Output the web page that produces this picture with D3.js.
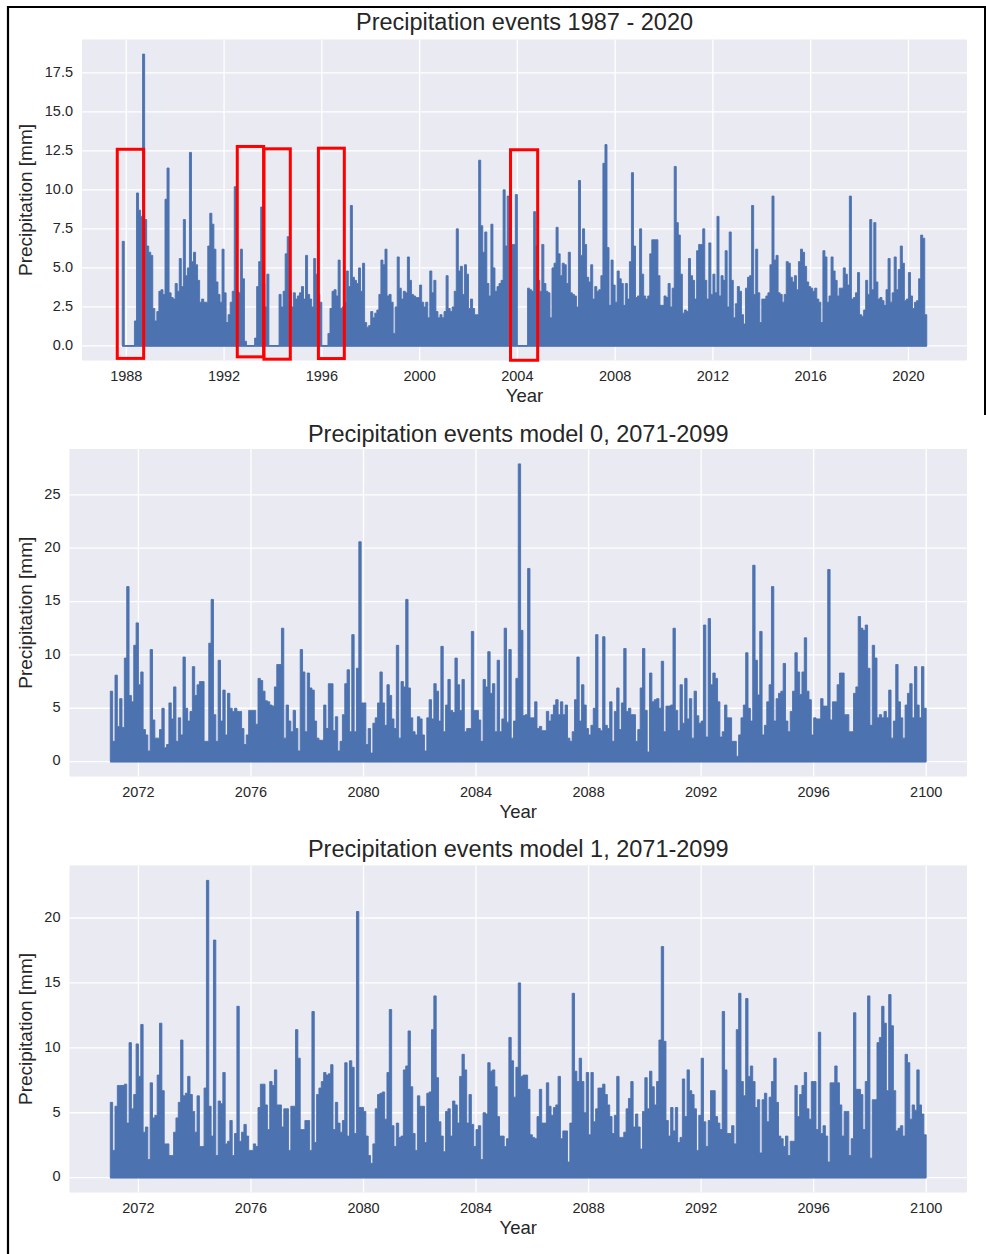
<!DOCTYPE html>
<html><head><meta charset="utf-8">
<script src="https://cdn.jsdelivr.net/npm/d3@7"></script>
<style>
body{margin:0;background:#fff}
svg{display:block}
text{font-family:"Liberation Sans",Arial,Helvetica,sans-serif;fill:#262626}
</style>
</head><body>
<svg id="chart" width="986" height="1254"></svg>
<script>
// ---------- DATA (monthly maxima of daily precipitation, mm) ----------
const obsStart = [1987, 10]; // Nov 1987
const obsValues = [
6.7,0,
0,0,0,0,1.6,9.8,8.7,8.3,18.7,8.1,6.4,6.0,
5.8,2.4,1.6,2.2,3.5,3.6,3.3,9.4,11.4,3.4,3.1,3.0,
4.0,3.5,5.6,3.8,8.1,4.5,5.0,12.4,5.4,6.0,5.2,4.2,
2.8,3.0,2.8,2.8,6.4,8.5,7.8,6.2,4.1,3.3,2.8,6.2,
3.4,1.5,2.0,2.8,3.5,10.2,3.5,3.4,6.2,4.3,0.3,0,
0,0,0,0.5,3.8,5.4,8.9,4.0,2.5,4.6,0,0,
0,0,0,3.3,2.5,3.5,5.9,7.0,3.5,2.5,3.4,3.0,
3.2,3.4,3.8,3.0,5.8,3.3,3.0,2.5,5.6,4.6,3.3,2.8,
0,0,0,0.8,2.4,3.5,3.6,3.2,5.5,2.4,2.5,2.8,
4.8,3.8,9.0,4.4,4.2,4.0,5.0,3.5,5.3,1.5,1.2,1.3,
2.2,1.8,2.1,2.3,3.3,5.5,5.2,6.2,3.2,3.3,2.8,0.8,
2.5,5.7,3.7,3.0,3.5,3.4,5.7,4.2,3.3,3.2,3.1,3.1,
3.9,2.8,2.5,2.8,1.8,4.8,3.4,4.2,2.2,1.8,2.0,1.8,
2.2,4.5,2.4,2.2,2.5,3.5,7.5,4.8,5.1,3.3,5.2,4.6,
2.4,3.0,2.4,2.0,2.0,11.9,7.7,6.0,7.3,4.0,3.2,7.8,
5.0,3.5,3.8,4.0,4.2,10.0,6.4,9.6,4.1,6.5,6.5,9.7,
0,0,0,0,0,3.7,3.6,3.5,8.6,6.4,4.2,3.5,
6.5,4.0,3.5,3.4,1.8,5.0,5.3,7.6,5.9,4.5,5.3,5.2,
4.0,6.0,3.4,3.3,3.2,2.5,10.6,5.8,7.5,6.5,4.4,4.1,
5.2,3.0,3.8,3.5,3.6,4.5,11.7,12.9,6.3,2.6,5.5,3.9,
2.8,4.8,4.3,4.0,2.6,4.0,3.0,5.4,11.1,6.4,3.1,3.2,
7.5,4.6,3.2,3.0,3.2,5.9,6.8,6.8,6.8,4.5,2.6,2.6,
3.2,3.1,4.0,2.5,3.7,11.5,7.9,7.1,4.6,2.1,2.3,2.2,
5.6,4.5,4.2,3.0,6.1,6.5,6.5,7.5,4.2,3.0,6.6,3.3,
4.6,3.4,8.3,3.2,4.5,4.2,6.1,2.5,7.3,4.2,1.8,2.7,
3.8,3.5,2.0,1.4,3.7,4.4,4.5,9.0,3.3,6.2,3.4,1.5,
3.0,3.0,3.2,3.4,5.2,9.6,5.5,5.8,3.4,3.3,2.8,3.3,
5.4,5.3,4.4,4.1,4.5,3.6,5.4,6.2,6.0,5.1,4.1,3.8,
3.7,3.5,3.7,3.0,2.8,1.5,6.1,5.7,2.8,3.2,5.7,4.8,
4.2,3.2,3.7,3.7,5.0,4.6,3.9,9.6,3.0,3.1,3.4,4.7,
2.0,1.9,2.3,4.2,3.3,8.1,3.6,7.9,4.1,3.0,3.1,2.9,
2.6,3.6,5.6,2.8,3.4,5.7,3.6,4.9,6.4,5.3,2.9,3.0,
4.7,3.2,2.4,2.8,2.9,4.3,7.1,6.9,2.0
];

const modelStart = [2071, 0]; // Jan 2071
const model0Values = [
6.6,1.9,8.1,3.3,5.9,3.2,9.7,16.4,6.2,5.6,10.9,13.0,
7.2,8.4,3.0,2.5,1.0,10.5,3.9,2.2,2.2,3.0,5.0,1.3,
1.6,5.5,4.0,7.0,1.9,4.1,2.5,9.8,5.0,3.8,4.7,8.9,
6.2,7.2,7.5,7.5,1.9,1.9,11.1,15.2,4.4,1.9,9.5,3.8,
6.7,2.5,6.4,5.0,4.7,5.0,4.7,4.7,3.1,1.6,2.5,4.8,
4.8,4.8,3.5,7.8,7.6,6.6,5.7,5.6,5.3,5.2,7.0,9.1,
9.1,12.5,2.2,5.3,3.8,2.8,4.8,3.1,1.0,10.5,8.4,2.8,
8.3,6.9,6.7,3.8,2.2,2.0,2.0,5.3,3.1,7.3,7.3,2.9,
4.2,1.0,1.9,4.4,7.3,8.6,2.8,11.9,2.8,8.75,20.6,5.5,
5.5,1.6,3.1,0.8,3.6,4.1,5.5,8.4,5.5,3.4,7.2,6.2,
4.0,3.1,10.9,2.2,7.5,7.0,15.2,6.9,4.1,2.8,2.5,4.2,
4.0,2.5,1.0,4.1,5.8,4.0,7.3,6.6,3.8,10.8,2.8,5.3,
7.7,4.8,4.6,9.7,7.2,4.8,7.7,2.8,3.1,3.1,12.2,4.8,
4.8,3.9,1.9,7.7,7.0,10.3,6.4,7.3,2.8,9.5,2.8,4.0,
12.5,3.7,10.5,2.2,3.8,7.8,27.9,12.3,4.3,4.4,18.1,4.1,
4.1,5.6,3.1,3.3,2.9,2.9,4.7,3.8,4.4,5.3,5.8,4.4,
5.6,4.4,5.3,2.2,1.9,2.8,5.8,9.8,3.8,7.2,5.3,3.1,
2.5,3.4,5.0,11.9,3.1,2.9,11.7,3.4,3.1,5.6,1.9,4.7,
6.9,3.0,5.5,10.6,4.7,5.0,4.4,4.4,1.9,3.0,6.9,10.6,
4.8,0.9,8.3,5.6,5.8,5.9,5.0,9.4,2.8,5.2,5.2,5.3,
12.5,4.8,2.9,7.2,3.6,7.8,4.0,5.9,2.2,6.6,4.3,3.6,
3.8,12.8,2.3,13.4,7.2,8.3,7.8,5.6,2.3,2.8,5.3,4.1,
4.1,1.9,1.9,0.5,2.5,4.1,5.3,10.2,5.0,3.8,18.4,9.5,
6.25,12.2,2.5,3.4,5.6,7.2,16.4,3.8,5.9,6.4,6.6,9.2,
3.8,2.8,4.7,6.6,10.2,8.4,6.3,8.4,11.6,6.6,5.8,2.5,
4.1,4.0,4.0,5.9,5.2,5.2,18.0,3.9,5.6,5.6,7.2,8.3,
8.3,4.4,4.4,2.8,2.8,6.4,7.0,13.6,12.5,12.3,12.8,8.75,
3.4,10.9,9.7,4.1,4.4,4.1,4.7,4.1,6.7,2.2,3.8,9.1,
5.6,4.1,2.2,5.3,6.4,7.3,4.1,8.9,5.3,4.1,8.9,5.0
];

const model1Values = [
5.8,2.1,5.5,7.1,7.1,7.1,7.2,4.2,10.4,5.3,6.4,10.3,
7.8,11.8,3.5,3.9,1.4,7.3,4.6,4.8,7.9,11.9,6.7,2.6,
2.6,1.7,1.7,3.5,4.6,5.8,10.6,6.3,6.5,7.8,6.4,5.1,
3.5,6.3,2.4,2.4,6.9,22.9,5.5,3.2,18.3,1.7,5.9,5.7,
8.1,2.6,2.8,4.4,1.7,3.4,13.2,2.8,3.5,4.1,3.2,2.1,
2.1,2.6,2.4,5.4,7.2,7.2,5.6,3.7,7.4,7.1,8.3,5.6,
5.6,3.9,5.3,5.3,2.1,5.5,5.5,11.4,9.2,3.7,3.7,4.4,
4.4,2.1,12.8,2.7,6.4,6.9,7.4,8.1,7.9,8.0,8.7,3.7,
5.8,4.2,3.5,4.4,8.85,3.2,9.0,8.5,3.4,20.5,5.4,5.4,
5.1,3.2,1.7,1.1,2.6,5.3,6.4,6.5,6.6,4.5,8.1,12.95,
4.0,2.4,4.2,3.1,3.2,8.3,8.6,11.3,7.0,3.4,2.1,6.3,
5.5,5.5,2.7,6.5,6.6,11.4,14.0,7.7,4.3,3.2,2.0,5.1,
5.3,3.2,5.9,5.6,4.2,7.8,9.5,8.3,4.2,6.4,4.1,2.4,
3.7,4.0,1.4,5.0,4.9,8.85,8.2,8.3,7.0,4.7,3.2,3.2,
2.4,3.0,10.8,9.0,6.2,8.5,15.0,7.8,7.9,7.9,6.8,3.3,
3.1,3.0,4.7,6.8,4.2,4.2,7.3,5.5,4.8,5.4,5.6,7.8,
3.0,3.6,3.6,1.2,4.2,14.2,8.2,7.4,9.2,7.4,5.0,8.1,
3.3,8.1,4.3,5.3,6.9,6.9,7.2,6.4,5.6,4.7,3.4,4.8,
7.8,3.1,3.1,3.5,5.3,6.1,7.4,3.9,4.9,3.9,2.2,5.1,
7.7,5.3,8.2,7.0,5.6,7.4,10.6,17.8,10.5,4.4,3.2,5.4,
3.6,5.4,2.7,3.1,7.6,4.7,8.3,6.7,6.4,5.3,2.1,4.8,
9.2,4.3,2.4,4.4,6.7,6.7,4.7,4.2,3.7,12.8,8.3,3.4,
3.4,4.0,2.6,11.4,14.2,7.4,6.3,13.8,7.8,8.6,7.4,5.4,
6.0,1.9,6.0,6.5,4.3,6.2,7.4,9.2,5.8,3.2,3.0,2.4,
3.2,1.7,2.8,2.8,7.1,4.7,6.4,7.1,8.1,5.3,4.5,7.4,
7.4,3.7,11.2,3.4,4.0,3.2,1.2,7.3,7.3,8.6,7.3,5.6,
3.2,5.1,5.1,1.7,3.0,12.7,6.8,6.8,6.4,3.7,7.4,14.0,
1.5,6.0,6.0,10.4,10.8,13.2,11.9,6.7,14.1,11.7,6.7,3.6,
3.8,4.0,3.2,9.5,8.85,4.5,5.6,5.2,8.3,5.6,4.9,3.3
];

const obsYearTicks = [1988,1992,1996,2000,2004,2008,2012,2016,2020];
const modelYearTicks = [2072,2076,2080,2084,2088,2092,2096,2100];
const obsValueTicks = [0,2.5,5,7.5,10,12.5,15,17.5];
const model0ValueTicks = [0,5,10,15,20,25];
const model1ValueTicks = [0,5,10,15,20];
const titles = ["Precipitation events 1987 - 2020","Precipitation events model 0, 2071-2099","Precipitation events model 1, 2071-2099"];
const xLabel = "Year";
const yLabel = "Precipitation [mm]";
// highlighted gaps in the observations: [fromYear, toYear, topValue, bottomValue]
const gapFrom = [1987.63, 1992.54, 1993.63, 1995.86, 2003.72];
const gapTo   = [1988.71, 1993.62, 1994.71, 1996.92, 2004.83];
const gapTop  = [12.6, 12.78, 12.63, 12.67, 12.57];
const gapBot  = [-0.8, -0.7, -0.85, -0.81, -0.92];

// ---------- DRAW ----------
const svg = d3.select("#chart");
const BLUE = "#4c72b0", BG = "#eaeaf2";

// frame lines of the screenshot
svg.append("line").attr("x1",8).attr("x2",8).attr("y1",6).attr("y2",1254).attr("stroke","#000").attr("stroke-width",2.2);
svg.append("line").attr("x1",7).attr("x2",986).attr("y1",7).attr("y2",7).attr("stroke","#000").attr("stroke-width",2.2);
svg.append("line").attr("x1",985).attr("x2",985).attr("y1",6).attr("y2",415).attr("stroke","#000").attr("stroke-width",2);

const panels = [
  {title:titles[0], values:obsValues, start:obsStart, xTicks:obsYearTicks, yTicks:obsValueTicks, fmt:d3.format(".1f"),
   left:82, right:967, top:39.5, bottom:360.5, titleY:23.5, id:0},
  {title:titles[1], values:model0Values, start:modelStart, xTicks:modelYearTicks, yTicks:model0ValueTicks, fmt:d3.format("d"),
   left:69.5, right:967, top:449, bottom:776.5, titleY:436, id:1},
  {title:titles[2], values:model1Values, start:modelStart, xTicks:modelYearTicks, yTicks:model1ValueTicks, fmt:d3.format("d"),
   left:69.5, right:967, top:865.5, bottom:1192.5, titleY:851, id:2}
];

panels.forEach(p => {
  const n = p.values.length;
  const t0 = p.start[0] + p.start[1]/12, t1 = t0 + n/12;
  const xpad = (t1 - t0) * 0.05;
  const x = d3.scaleLinear().domain([t0 - xpad, t1 + xpad]).range([p.left, p.right]);
  const vmax = d3.max(p.values), vpad = vmax * 0.05;
  const y = d3.scaleLinear().domain([-vpad, vmax + vpad]).range([p.bottom, p.top]);
  const g = svg.append("g");

  g.append("rect").attr("x",p.left).attr("y",p.top).attr("width",p.right-p.left).attr("height",p.bottom-p.top).attr("fill",BG);

  // grid
  g.selectAll(".gx").data(p.xTicks).join("line")
    .attr("x1",d=>x(d)).attr("x2",d=>x(d)).attr("y1",p.top).attr("y2",p.bottom)
    .attr("stroke","#fff").attr("stroke-width",1.3);
  g.selectAll(".gy").data(p.yTicks).join("line")
    .attr("x1",p.left).attr("x2",p.right).attr("y1",d=>y(d)).attr("y2",d=>y(d))
    .attr("stroke","#fff").attr("stroke-width",1.3);

  // clip
  const cid = "clip"+p.id;
  svg.append("clipPath").attr("id",cid).append("rect")
    .attr("x",p.left).attr("y",p.top).attr("width",p.right-p.left).attr("height",p.bottom-p.top);
  const dg = g.append("g").attr("clip-path",`url(#${cid})`);

  // series as a stepped skyline (one solid shape, no seams)
  const pts = p.values.map((v,i)=>[t0 + i/12, v]);
  pts.push([t1, p.values[n-1]]);
  const area = d3.area().curve(d3.curveStepAfter)
    .x(d=>x(d[0])).y0(()=>y(0)).y1(d=>y(d[1]));
  dg.append("path").attr("d", area(pts))
    .attr("fill", BLUE).attr("stroke", BLUE).attr("stroke-width", 0.9).attr("stroke-linejoin","miter");
  // baseline of the line (dry days)
  dg.append("path")
    .attr("d", d3.line().x(d=>x(d)).y(()=>y(0))([t0, t1]))
    .attr("stroke", BLUE).attr("stroke-width",1.6).attr("fill","none");

  // tick labels
  g.selectAll(".tx").data(p.xTicks).join("text")
    .attr("x",d=>x(d)).attr("y",p.bottom+17).attr("text-anchor","middle").attr("dominant-baseline","middle")
    .attr("font-size",14.5).text(d=>d);
  g.selectAll(".ty").data(p.yTicks).join("text")
    .attr("x",p.left-9).attr("y",d=>y(d)).attr("text-anchor","end").attr("dominant-baseline","middle")
    .attr("font-size",14.5).text(d=>p.fmt(d));

  // axis labels
  g.append("text").attr("x",(p.left+p.right)/2).attr("y",p.bottom+37).attr("text-anchor","middle")
    .attr("dominant-baseline","middle").attr("font-size",18.5).text(xLabel);
  g.append("text").attr("transform",`translate(27,${(p.top+p.bottom)/2}) rotate(-90)`)
    .attr("text-anchor","middle").attr("dominant-baseline","middle").attr("font-size",19).text(yLabel);
  // title
  g.append("text").attr("x",(p.left+p.right)/2).attr("y",p.titleY).attr("text-anchor","middle")
    .attr("dominant-baseline","middle").attr("font-size",23.5).text(p.title);

  if (p.id === 0) {
    const boxes = d3.range(gapFrom.length).map(i=>({a:gapFrom[i], b:gapTo[i], t:gapTop[i], u:gapBot[i]}));
    g.selectAll(".gap").data(boxes).join("rect")
      .attr("x",d=>x(d.a)).attr("width",d=>x(d.b)-x(d.a))
      .attr("y",d=>y(d.t)).attr("height",d=>y(d.u)-y(d.t))
      .attr("fill","none").attr("stroke","#ff0000").attr("stroke-width",3);
  }
});
</script>
</body></html>
